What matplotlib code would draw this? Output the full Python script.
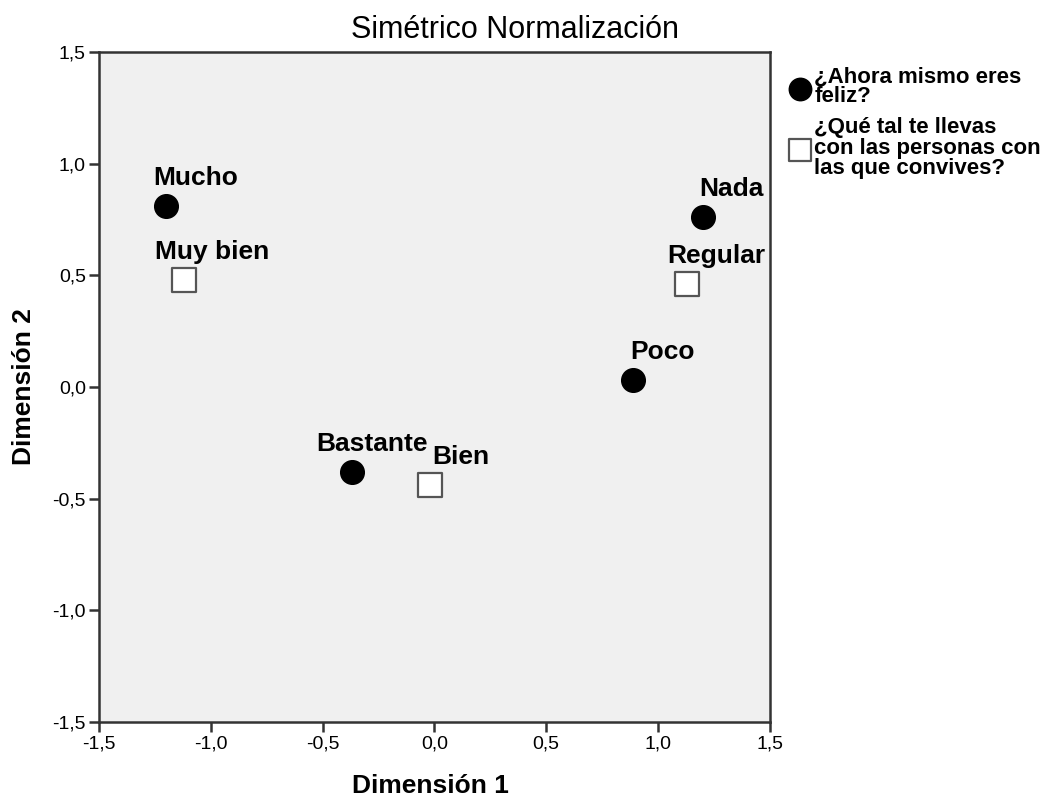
import matplotlib.pyplot as plt
from matplotlib.ticker import FuncFormatter

plt.rcParams['font.family'] = ['Liberation Sans', 'DejaVu Sans']

# Puntos de categoría (normalización simétrica)
feliz_cats = ["Mucho", "Bastante", "Poco", "Nada"]
feliz_d1 = [-1.20, -0.37, 0.89, 1.20]
feliz_d2 = [0.81, -0.38, 0.03, 0.76]

convive_cats = ["Muy bien", "Bien", "Regular"]
convive_d1 = [-1.12, -0.02, 1.13]
convive_d2 = [0.48, -0.44, 0.46]

# desplazamiento de las etiquetas (píxeles)
offsets = {"Mucho": (-13, 21), "Bastante": (-35, 21), "Poco": (-3, 21),
           "Nada": (-3, 21), "Muy bien": (-29, 21), "Bien": (2, 21),
           "Regular": (-20, 21)}

fig = plt.figure(figsize=(10.58, 7.96), dpi=100)
ax = fig.add_axes([0.0936, 0.093, 0.634, 0.8417])
ax.set_facecolor("#f0f0f0")

ax.scatter(feliz_d1, feliz_d2, s=290, c="black", marker="o", zorder=3,
           label="¿Ahora mismo eres\nfeliz?")
ax.scatter(convive_d1, convive_d2, s=300, c="white", edgecolors="#555555",
           linewidths=1.6, marker="s", zorder=3,
           label="¿Qué tal te llevas\ncon las personas con\nlas que convives?")

for cats, xs, ys in [(feliz_cats, feliz_d1, feliz_d2),
                     (convive_cats, convive_d1, convive_d2)]:
    for c, x, y in zip(cats, xs, ys):
        ax.annotate(c, (x, y), xytext=offsets[c], textcoords="offset pixels",
                    ha="left", va="baseline", fontsize=19, fontweight="bold")

ax.set_xlim(-1.5, 1.5)
ax.set_ylim(-1.5, 1.5)
ticks = [-1.5, -1.0, -0.5, 0.0, 0.5, 1.0, 1.5]
ax.set_xticks(ticks)
ax.set_yticks(ticks)
fmt = FuncFormatter(lambda v, p: f"{v:.1f}".replace(".", ","))
ax.xaxis.set_major_formatter(fmt)
ax.yaxis.set_major_formatter(fmt)
ax.tick_params(labelsize=14, length=7.5, width=1.8, color="#333333", pad=2)
for s in ax.spines.values():
    s.set_linewidth(1.8)
    s.set_color("#333333")

fig.text(0.407, 0.004, "Dimensión 1", ha="center", va="baseline",
         fontsize=19, fontweight="bold")
fig.text(0.011, 0.514, "Dimensión 2", ha="left", va="center", rotation=90,
         fontsize=19, fontweight="bold")
fig.text(0.487, 0.962, "Simétrico Normalización", ha="center", va="center",
         fontsize=22)

leg = fig.legend(loc="upper left", bbox_to_anchor=(0.738, 0.928), frameon=False,
                 handletextpad=0.2, labelspacing=0.45, handlelength=0.9,
                 markerscale=0.95, borderaxespad=0,
                 prop={"weight": "bold", "size": 16})
for t in leg.get_texts():
    t.set_linespacing(0.95)

fig.savefig("out.png", dpi=100)
